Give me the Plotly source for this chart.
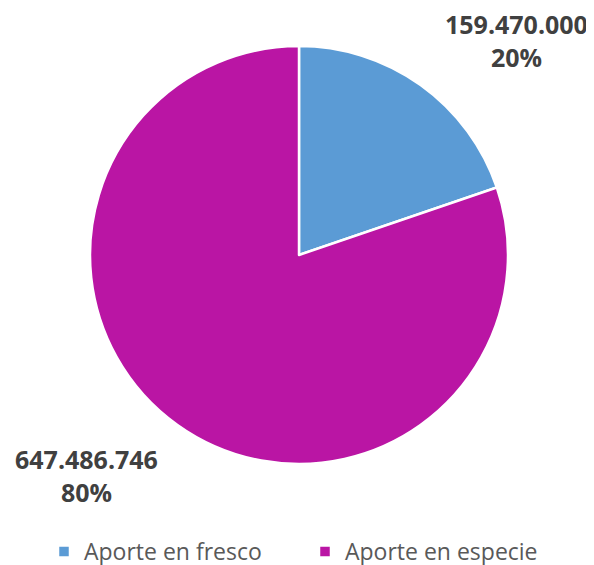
import plotly.graph_objects as go

categories = ["Aporte en fresco", "Aporte en especie"]
values = [159470000, 647486746]
colors = ["#5B9BD5", "#BA15A4"]

W, H = 594, 565
OFF = 8  # page body margin
total = sum(values)

def fmt(v):
    return f"{v:,}".replace(",", ".")

cx, cy, r = 299 - OFF, 255 - OFF, 209
fig = go.Figure(go.Pie(
    labels=categories,
    values=values,
    sort=False,
    direction="clockwise",
    rotation=0,
    textinfo="none",
    hoverinfo="label+value+percent",
    marker=dict(colors=colors, line=dict(color="white", width=2.5)),
    domain=dict(x=[(cx - r) / W, (cx + r) / W], y=[1 - (cy + r) / H, 1 - (cy - r) / H]),
))

label_pos = [(516 - OFF, 40 - OFF), (86 - OFF, 475 - OFF)]
for v, (x, y) in zip(values, label_pos):
    pct = round(v / total * 100)
    fig.add_annotation(
        x=x / W, y=1 - y / H, xref="paper", yref="paper",
        text=f"<b>{fmt(v)}</b><br><b>{pct}%</b>",
        showarrow=False, xanchor="center", yanchor="middle",
        font=dict(family="Open Sans", size=25, color="#404040"),
    )

fig.update_layout(
    width=W, height=H,
    margin=dict(l=0, r=0, t=0, b=0, autoexpand=False),
    paper_bgcolor="white", plot_bgcolor="white",
    showlegend=True,
    legend=dict(
        orientation="h", x=36 / W, y=0.0, xanchor="left", yanchor="bottom",
        font=dict(family="Open Sans", size=23, color="#595959"),
        entrywidth=216, entrywidthmode="pixels",
        itemclick=False, itemdoubleclick=False,
    ),
)

fig.write_html("out.html")
